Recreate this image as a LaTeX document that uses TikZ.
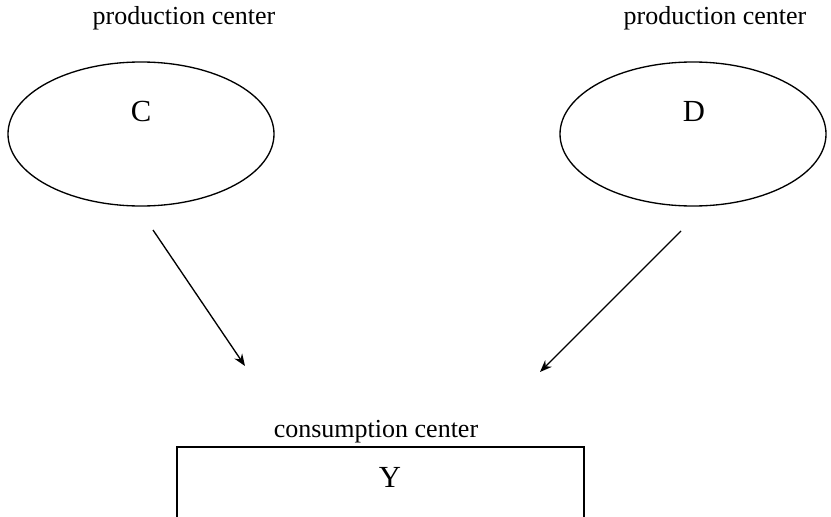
\documentclass[tikz,border=0pt]{standalone}
\usepackage{fontspec}
\setmainfont{Liberation Serif}
\usetikzlibrary{shapes.geometric,arrows.meta}
\begin{document}
\begin{tikzpicture}[x=0.75pt,y=-0.75pt,
  line width=1pt,
  prodshape/.style={draw, ellipse, minimum width=199.5pt, minimum height=108pt, inner sep=0pt},
  consbox/.style={draw, rectangle, minimum width=305.25pt, minimum height=120pt, inner sep=0pt},
  lbl/.style={font=\fontsize{19.5}{22}\selectfont, inner sep=0pt},
  big/.style={font=\fontsize{23}{26}\selectfont, inner sep=0pt},
  flow/.style={-{Stealth[length=9pt,width=7pt]}}]
\useasboundingbox (0,0) rectangle (831,517);
\clip (0,0) rectangle (831,517);
\node[lbl] (pc) at (184,18) {production center};
\node[lbl] (pd) at (715,18) {production center};
\node[prodshape] (C) at (141,134) {};
\node[prodshape] (D) at (693,134) {};
\node[big] (Ct) at (141,111) {C};
\node[big] (Dt) at (694,111) {D};
\coordinate (c1) at (153,230);
\coordinate (c2) at (245,366);
\coordinate (d1) at (681,231);
\coordinate (d2) at (540,372);
\draw[flow] (c1) -- (c2);
\draw[flow] (d1) -- (d2);
\node[lbl] (cc) at (376,432) {consumption center};
\node[consbox] (Y) at (380.5,527) {};
\node[big] (Yt) at (390,477) {Y};
\end{tikzpicture}
\end{document}
